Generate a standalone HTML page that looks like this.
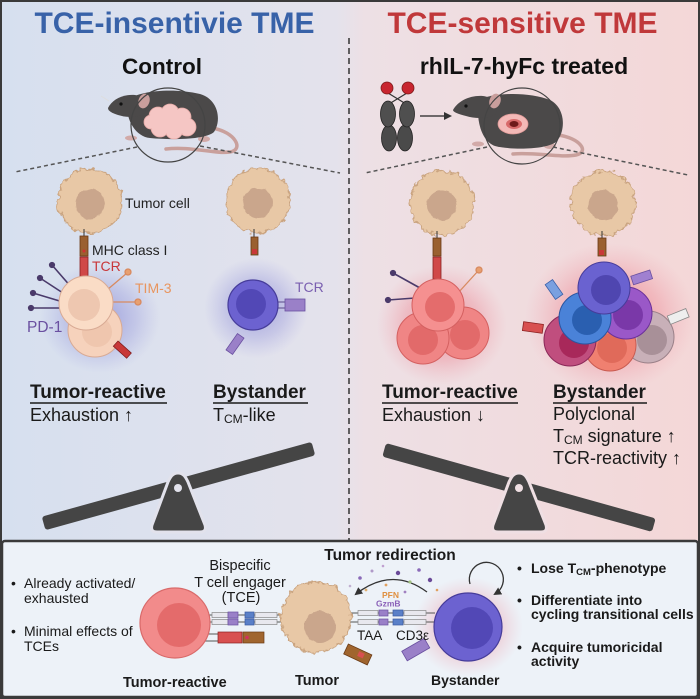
<!DOCTYPE html>
<html><head><meta charset="utf-8"><style>
html,body{margin:0;padding:0;background:#fff;}
body{width:700px;height:699px;overflow:hidden;}
svg{display:block;font-family:"Liberation Sans",Arial,sans-serif;}
</style></head><body>
<svg width="700" height="699" viewBox="0 0 700 699" xmlns="http://www.w3.org/2000/svg">
<defs>
<linearGradient id="bg" x1="0" y1="0" x2="1" y2="0">
<stop offset="0" stop-color="#d6e0ef"/><stop offset="0.48" stop-color="#e4e2ec"/><stop offset="0.52" stop-color="#ede0e5"/><stop offset="1" stop-color="#f4d7d7"/>
</linearGradient>
<radialGradient id="gBlue"><stop offset="0" stop-color="#7070d0" stop-opacity="0.6"/><stop offset="0.6" stop-color="#8a8ad8" stop-opacity="0.3"/><stop offset="1" stop-color="#9a9ae0" stop-opacity="0"/></radialGradient>
<radialGradient id="gRed"><stop offset="0" stop-color="#e85060" stop-opacity="0.6"/><stop offset="0.6" stop-color="#ec7080" stop-opacity="0.3"/><stop offset="1" stop-color="#f090a0" stop-opacity="0"/></radialGradient>
<filter id="rough" x="-25%" y="-25%" width="150%" height="150%"><feTurbulence type="fractalNoise" baseFrequency="0.18" numOctaves="2" seed="4"/><feDisplacementMap in="SourceGraphic" scale="8" xChannelSelector="R" yChannelSelector="G"/></filter>
<filter id="rough2" x="-25%" y="-25%" width="150%" height="150%"><feTurbulence type="fractalNoise" baseFrequency="0.12" numOctaves="2" seed="9"/><feDisplacementMap in="SourceGraphic" scale="4" xChannelSelector="R" yChannelSelector="G"/></filter>
<marker id="ah" markerWidth="8" markerHeight="8" refX="6" refY="4" orient="auto" markerUnits="userSpaceOnUse"><path d="M0,0 L8,4 L0,8 Z" fill="#333"/></marker>
</defs>

<!-- top panel background -->
<rect x="0" y="0" width="700" height="542" fill="url(#bg)"/>
<rect x="1" y="1" width="698" height="697" fill="none" stroke="#3a3a3a" stroke-width="2"/>
<line x1="349" y1="38" x2="349" y2="540" stroke="#333" stroke-width="1.5" stroke-dasharray="6,4"/>

<!-- titles -->
<text x="174.5" y="33" font-size="30" font-weight="bold" fill="#3862a8" text-anchor="middle">TCE-insentivie TME</text>
<text x="522.5" y="33" font-size="30" font-weight="bold" fill="#c0383a" text-anchor="middle">TCE-sensitive TME</text>
<text x="162" y="74" font-size="22.5" font-weight="bold" fill="#111" text-anchor="middle">Control</text>
<text x="524" y="74" font-size="23" font-weight="bold" fill="#111" text-anchor="middle">rhIL-7-hyFc treated</text>

<!-- left mouse -->
<path d="M212,128 C236,132 244,150 230,152 C214,154 190,146 166,149" fill="none" stroke="#c9a09c" stroke-width="3.5" stroke-linecap="round"/>
<ellipse cx="204" cy="139" rx="6" ry="3" fill="#d2aaa8"/>
<ellipse cx="131" cy="138" rx="6" ry="2.5" fill="#d2aaa8"/>
<path d="M128,100 C140,90 175,88 200,94 C218,99 222,120 214,132 C205,140 170,140 150,138 C138,137 130,125 128,115 Z" fill="#4b4949"/>
<path d="M108,108 C112,100 122,94 135,95 C142,96 146,104 146,112 C140,118 128,118 118,115 C112,113 108,111 108,108Z" fill="#4b4949"/>
<line x1="109" y1="101" x2="101" y2="96" stroke="#ddd" stroke-width="0.8"/>
<ellipse cx="144" cy="101" rx="5.5" ry="7.5" fill="#c99e9c" transform="rotate(20 144 101)"/>
<circle cx="121" cy="104" r="1.6" fill="#111"/>
<g fill="#f5c6c4" stroke="#e6a9a6" stroke-width="0.8">
<circle cx="158" cy="116" r="9"/><circle cx="170" cy="113" r="9"/><circle cx="182" cy="117" r="9"/><circle cx="187" cy="127" r="9"/><circle cx="174" cy="130" r="9"/><circle cx="160" cy="128" r="9"/><circle cx="151" cy="122" r="7"/>
</g>
<g fill="#f5c6c4"><circle cx="158" cy="116" r="8"/><circle cx="170" cy="113" r="8"/><circle cx="182" cy="117" r="8"/><circle cx="187" cy="127" r="8"/><circle cx="174" cy="130" r="8"/><circle cx="160" cy="128" r="8"/><circle cx="151" cy="122" r="6"/><circle cx="171" cy="122" r="10"/></g>
<circle cx="168" cy="125" r="37" fill="none" stroke="#444" stroke-width="1.2"/>
<line x1="137" y1="147" x2="15" y2="172" stroke="#555" stroke-width="1.5" stroke-dasharray="4,3"/>
<line x1="200" y1="146" x2="340" y2="173" stroke="#555" stroke-width="1.5" stroke-dasharray="4,3"/>

<!-- right mouse + antibody -->
<path d="M558,135 C580,138 590,152 576,155 C560,158 535,152 513,154" fill="none" stroke="#c9a09c" stroke-width="3.5" stroke-linecap="round"/>
<ellipse cx="550" cy="146" rx="6" ry="3" fill="#d2aaa8"/>
<ellipse cx="478" cy="144" rx="6" ry="2.5" fill="#d2aaa8"/>
<path d="M478,100 C495,92 530,92 550,100 C566,108 566,132 556,142 C545,150 510,150 495,146 C483,142 478,125 478,112 Z" fill="#4b4949"/>
<path d="M453,110 C458,101 470,95 483,96 C492,97 497,104 497,113 C490,119 476,119 466,116 C458,114 453,112 453,110 Z" fill="#4b4949"/>
<ellipse cx="495" cy="101" rx="5.5" ry="7.5" fill="#c99e9c" transform="rotate(20 495 101)"/>
<circle cx="466" cy="106" r="1.6" fill="#111"/>
<ellipse cx="513" cy="124" rx="15" ry="10" fill="#f3b9b7" stroke="#e09a98" stroke-width="0.8"/>
<ellipse cx="514" cy="124" rx="8" ry="5" fill="#d86a6a"/>
<ellipse cx="514" cy="124" rx="4.5" ry="3" fill="#6e1a1a"/>
<circle cx="522" cy="126" r="38" fill="none" stroke="#444" stroke-width="1.2"/>
<line x1="487" y1="147" x2="365" y2="173" stroke="#555" stroke-width="1.5" stroke-dasharray="4,3"/>
<line x1="553" y1="147" x2="688" y2="175" stroke="#555" stroke-width="1.5" stroke-dasharray="4,3"/>
<line x1="388" y1="93" x2="406" y2="104" stroke="#333" stroke-width="1.2"/>
<line x1="407" y1="93" x2="389" y2="104" stroke="#333" stroke-width="1.2"/>
<circle cx="387" cy="88" r="6" fill="#c8252f" stroke="#7a1a1a" stroke-width="0.8"/>
<circle cx="408" cy="88" r="6" fill="#c8252f" stroke="#7a1a1a" stroke-width="0.8"/>
<ellipse cx="389" cy="138" rx="7.5" ry="13" fill="#4a4a4a" stroke="#222" stroke-width="0.8"/>
<ellipse cx="405" cy="138" rx="7.5" ry="13" fill="#4a4a4a" stroke="#222" stroke-width="0.8"/>
<ellipse cx="388" cy="114" rx="7.5" ry="13" fill="#4f4f4f" stroke="#222" stroke-width="0.8"/>
<ellipse cx="407" cy="114" rx="7.5" ry="13" fill="#4f4f4f" stroke="#222" stroke-width="0.8"/>
<line x1="420" y1="116" x2="450" y2="116" stroke="#222" stroke-width="1.3" marker-end="url(#ah)"/>

<!-- tumor cells top -->
<g filter="url(#rough)">
<circle cx="90" cy="201" r="32" fill="#e8c8a6" stroke="#caa480" stroke-width="1.2"/>
<circle cx="258" cy="201" r="32" fill="#e8c8a6" stroke="#caa480" stroke-width="1.2"/>
<circle cx="442" cy="203" r="32" fill="#e8c8a6" stroke="#caa480" stroke-width="1.2"/>
<circle cx="603" cy="203" r="32" fill="#e8c8a6" stroke="#caa480" stroke-width="1.2"/>
</g>
<g filter="url(#rough2)" fill="#caa68c">
<circle cx="90" cy="204" r="15"/><circle cx="258" cy="203" r="15"/><circle cx="442" cy="205" r="15"/><circle cx="603" cy="205" r="15"/>
</g>

<!-- glows -->
<ellipse cx="100" cy="318" rx="60" ry="55" fill="url(#gBlue)"/>
<ellipse cx="256" cy="308" rx="52" ry="50" fill="url(#gBlue)"/>
<ellipse cx="442" cy="325" rx="65" ry="60" fill="url(#gRed)"/>
<ellipse cx="610" cy="318" rx="85" ry="75" fill="url(#gRed)"/>

<!-- left tumor-reactive cluster -->
<line x1="84" y1="229" x2="84" y2="237" stroke="#333" stroke-width="1"/>
<rect x="80" y="236" width="8" height="20" fill="#9a6030" stroke="#6a3a15" stroke-width="0.8"/>
<circle cx="84" cy="251" r="1.5" fill="#d03030"/>
<rect x="80" y="257" width="8" height="20" fill="#d04848" stroke="#8a2020" stroke-width="0.8"/>
<line x1="82" y1="277" x2="82" y2="286" stroke="#555" stroke-width="1"/>
<line x1="86" y1="277" x2="86" y2="286" stroke="#555" stroke-width="1"/>
<g stroke="#4a3a6a" stroke-width="1.6" fill="#4a3a6a">
<line x1="72" y1="288" x2="52" y2="265"/><circle cx="52" cy="265" r="2.3"/>
<line x1="66" y1="295" x2="40" y2="278"/><circle cx="40" cy="278" r="2.3"/>
<line x1="63" y1="302" x2="33" y2="293"/><circle cx="33" cy="293" r="2.3"/>
<line x1="62" y1="308" x2="31" y2="308"/><circle cx="31" cy="308" r="2.3"/>
</g>
<g stroke="#d88a60" stroke-width="1.3" fill="#e8a070">
<line x1="107" y1="290" x2="127" y2="273"/><circle cx="128" cy="272" r="3"/>
<line x1="107" y1="302" x2="136" y2="302"/><circle cx="138" cy="302" r="3"/>
</g>
<circle cx="95" cy="330" r="27" fill="#f6d2bc" stroke="#d8aa94" stroke-width="1"/>
<circle cx="97" cy="332" r="15" fill="#efc6ae"/>
<circle cx="86" cy="303" r="27" fill="#fadcc6" stroke="#d8aa94" stroke-width="1"/>
<circle cx="84" cy="305" r="16" fill="#eec7b0"/>
<rect x="118" y="341" width="18" height="7" fill="#c83838" stroke="#7a1a1a" stroke-width="0.7" transform="rotate(42 118 341)"/>
<text x="125" y="208" font-size="14" fill="#222">Tumor cell</text>
<text x="92" y="255" font-size="14" fill="#222">MHC class I</text>
<text x="92" y="271" font-size="14" fill="#c8363a">TCR</text>
<text x="135" y="293" font-size="14" fill="#e8955f">TIM-3</text>
<text x="27" y="332" font-size="15.5" fill="#6a50a0">PD-1</text>

<!-- left bystander -->
<line x1="254" y1="229" x2="254" y2="238" stroke="#333" stroke-width="1"/>
<rect x="251" y="237" width="7" height="18" fill="#9a6030" stroke="#6a3a15" stroke-width="0.8"/>
<rect x="252" y="249" width="5" height="5" fill="#c83838"/>
<g stroke="#5a4a8a" stroke-width="1"><line x1="276" y1="302" x2="286" y2="302"/><line x1="276" y1="308" x2="286" y2="308"/></g>
<rect x="285" y="299" width="20" height="12" fill="#9a80c8" stroke="#6a50a0" stroke-width="0.8"/>
<circle cx="253" cy="305" r="25" fill="#6c62d0" stroke="#463c9a" stroke-width="1.2"/>
<circle cx="251" cy="304" r="15" fill="#5248b6"/>
<rect x="231" y="334" width="8" height="20" fill="#9a80c8" stroke="#6a50a0" stroke-width="0.8" transform="rotate(35 235 344)"/>
<text x="295" y="292" font-size="14" fill="#7a5fb0">TCR</text>

<!-- right tumor-reactive cluster -->
<line x1="437" y1="231" x2="437" y2="239" stroke="#333" stroke-width="1"/>
<rect x="433" y="238" width="8" height="18" fill="#9a6030" stroke="#6a3a15" stroke-width="0.8"/>
<rect x="433" y="257" width="8" height="22" fill="#d04848" stroke="#8a2020" stroke-width="0.8"/>
<g stroke="#4a3a6a" stroke-width="1.6" fill="#4a3a6a">
<line x1="420" y1="288" x2="393" y2="273"/><circle cx="393" cy="273" r="2.3"/>
<line x1="415" y1="298" x2="388" y2="300"/><circle cx="388" cy="300" r="2.3"/>
</g>
<g stroke="#d88a60" stroke-width="1.3" fill="#e8a070"><line x1="458" y1="293" x2="478" y2="271"/><circle cx="479" cy="270" r="3"/></g>
<circle cx="463" cy="333" r="26" fill="#f08585" stroke="#d46060" stroke-width="1"/>
<circle cx="465" cy="335" r="15" fill="#e26a6a"/>
<circle cx="423" cy="338" r="26" fill="#f08585" stroke="#d46060" stroke-width="1"/>
<circle cx="423" cy="340" r="15" fill="#e26a6a"/>
<circle cx="438" cy="305" r="26" fill="#f59090" stroke="#d46060" stroke-width="1"/>
<circle cx="440" cy="307" r="15" fill="#e46c6c"/>

<!-- right bystander cluster -->
<line x1="602" y1="231" x2="602" y2="239" stroke="#333" stroke-width="1"/>
<rect x="598" y="238" width="8" height="18" fill="#9a6030" stroke="#6a3a15" stroke-width="0.8"/>
<rect x="599" y="250" width="5" height="5" fill="#c83838"/>
<circle cx="648" cy="337" r="26" fill="#c8b0b8" stroke="#9a8088" stroke-width="1"/><circle cx="652" cy="340" r="15" fill="#a89098"/>
<circle cx="610" cy="345" r="26" fill="#f08070" stroke="#c85a50" stroke-width="1"/><circle cx="612" cy="348" r="15" fill="#e06a5a"/>
<circle cx="570" cy="340" r="26" fill="#c04e7e" stroke="#8a2858" stroke-width="1"/><circle cx="574" cy="343" r="15" fill="#a8285a"/>
<circle cx="626" cy="313" r="26" fill="#9a58c8" stroke="#6a3098" stroke-width="1"/><circle cx="628" cy="315" r="15" fill="#7a38a8"/>
<circle cx="585" cy="318" r="26" fill="#4a82d8" stroke="#2a55a0" stroke-width="1"/><circle cx="587" cy="320" r="15" fill="#2a5fb0"/>
<circle cx="604" cy="288" r="26" fill="#6a62d0" stroke="#463c9a" stroke-width="1"/><circle cx="606" cy="290" r="15" fill="#4f46b0"/>
<g stroke-width="0.8">
<rect x="632" y="276" width="20" height="9" fill="#a080d0" stroke="#6a50a0" transform="rotate(-18 632 280)"/>
<rect x="550" y="280" width="9" height="18" fill="#7aa0e0" stroke="#3a60a8" transform="rotate(-35 555 290)"/>
<rect x="523" y="323" width="20" height="9" fill="#d85050" stroke="#8a2020" transform="rotate(8 533 327)"/>
<rect x="668" y="312" width="20" height="9" fill="#eee" stroke="#888" transform="rotate(-22 678 316)"/>
</g>

<!-- middle labels -->
<g fill="#1a1a1a">
<text x="30" y="398" font-size="19" font-weight="bold">Tumor-reactive</text>
<text x="30" y="421" font-size="18">Exhaustion ↑</text>
<text x="213" y="398" font-size="19" font-weight="bold">Bystander</text>
<text x="213" y="421" font-size="18">T<tspan font-size="12" dy="2">CM</tspan><tspan dy="-2">-like</tspan></text>
<text x="382" y="398" font-size="19" font-weight="bold">Tumor-reactive</text>
<text x="382" y="421" font-size="18">Exhaustion ↓</text>
<text x="553" y="398" font-size="19" font-weight="bold">Bystander</text>
<text x="553" y="420" font-size="18">Polyclonal</text>
<text x="553" y="442" font-size="18">T<tspan font-size="12" dy="2">CM</tspan><tspan dy="-2"> signature ↑</tspan></text>
<text x="553" y="464" font-size="18">TCR-reactivity ↑</text>
</g>
<g stroke="#1a1a1a" stroke-width="1.6">
<line x1="30" y1="403" x2="167" y2="403"/><line x1="213" y1="403" x2="308" y2="403"/>
<line x1="382" y1="403" x2="518" y2="403"/><line x1="553" y1="403" x2="647" y2="403"/>
</g>

<!-- seesaws -->
<rect x="-140" y="-7" width="280" height="14" rx="3" fill="#454545" transform="translate(178.5 486) rotate(-15.5)"/>
<path d="M178,473 C172,473 170,478 168,482 L152,525 Q150,532 157,532 L200,532 Q207,532 205,525 L188,482 C186,478 184,473 178,473 Z" fill="#454545" stroke="#e2e2ec" stroke-width="3"/>
<circle cx="178" cy="488" r="4" fill="#e2e2ec"/>
<rect x="-140" y="-7" width="280" height="14" rx="3" fill="#454545" transform="translate(519 487.5) rotate(15.6)"/>
<path d="M519,473 C513,473 511,478 509,482 L493,525 Q491,532 498,532 L541,532 Q548,532 546,525 L529,482 C527,478 525,473 519,473 Z" fill="#454545" stroke="#efdfe3" stroke-width="3"/>
<circle cx="519" cy="488" r="4" fill="#efdfe3"/>

<!-- bottom panel -->
<rect x="2" y="541" width="696" height="156" rx="3" fill="#edf2f8" stroke="#3a3a3a" stroke-width="2.5"/>
<g font-size="14" fill="#1a1a1a">
<text x="11" y="588">•</text><text x="24" y="588">Already activated/</text>
<text x="24" y="603">exhausted</text>
<text x="11" y="636">•</text><text x="24" y="636">Minimal effects of</text>
<text x="24" y="651">TCEs</text>
</g>
<g font-size="14.5" fill="#1a1a1a" text-anchor="middle">
<text x="240" y="570">Bispecific</text>
<text x="240" y="587">T cell engager</text>
<text x="241" y="602">(TCE)</text>
</g>
<text x="390" y="560" font-size="15.5" font-weight="bold" fill="#1a1a1a" text-anchor="middle">Tumor redirection</text>

<!-- bystander glow -->
<ellipse cx="468" cy="627" rx="55" ry="50" fill="url(#gRed)" opacity="0.8"/>

<!-- left TCE bars -->
<g stroke="#555" stroke-width="1"><line x1="205" y1="615" x2="290" y2="615"/><line x1="205" y1="622" x2="290" y2="622"/>
<line x1="205" y1="634" x2="220" y2="634"/><line x1="205" y1="641" x2="220" y2="641"/></g>
<g stroke-width="0.7">
<rect x="212" y="612.5" width="16" height="5" fill="#e8e8ee" stroke="#888"/><rect x="212" y="619.5" width="16" height="5" fill="#e8e8ee" stroke="#888"/>
<rect x="228" y="612" width="10" height="6" fill="#9a80c8" stroke="#6a50a0"/><rect x="228" y="619" width="10" height="6" fill="#9a80c8" stroke="#6a50a0"/>
<rect x="245" y="612" width="9" height="6" fill="#5a80c8" stroke="#3a5aa0"/><rect x="245" y="619" width="9" height="6" fill="#5a80c8" stroke="#3a5aa0"/>
<rect x="255" y="612.5" width="22" height="5" fill="#e8e8ee" stroke="#888"/><rect x="255" y="619.5" width="22" height="5" fill="#e8e8ee" stroke="#888"/>
<rect x="218" y="632" width="24" height="11" fill="#d85050" stroke="#8a2020"/>
<rect x="243" y="632" width="21" height="11" fill="#a0652e" stroke="#6a3a15"/>
<circle cx="247" cy="637.5" r="1.8" fill="#d03060"/>
</g>
<!-- right TCE bars -->
<g stroke="#555" stroke-width="1"><line x1="345" y1="613" x2="435" y2="613"/><line x1="345" y1="622" x2="435" y2="622"/></g>
<g stroke-width="0.7">
<rect x="358" y="610.5" width="20" height="5" fill="#e8e8ee" stroke="#888"/><rect x="358" y="619.5" width="20" height="5" fill="#e8e8ee" stroke="#888"/>
<rect x="379" y="610" width="9" height="6" fill="#9a80c8" stroke="#6a50a0"/><rect x="379" y="619" width="9" height="6" fill="#9a80c8" stroke="#6a50a0"/>
<rect x="393" y="610" width="10" height="6" fill="#5a80c8" stroke="#3a5aa0"/><rect x="393" y="619" width="10" height="6" fill="#5a80c8" stroke="#3a5aa0"/>
<rect x="404" y="610.5" width="22" height="5" fill="#e8e8ee" stroke="#888"/><rect x="404" y="619.5" width="22" height="5" fill="#e8e8ee" stroke="#888"/>
</g>

<!-- bottom cells -->
<circle cx="175" cy="623" r="35" fill="#f28b8b" stroke="#d96a6a" stroke-width="1.2"/>
<circle cx="179" cy="625" r="22" fill="#e46b6b"/>
<g filter="url(#rough)"><circle cx="316" cy="617" r="35" fill="#e8c8a6" stroke="#caa480" stroke-width="1.2"/></g>
<g filter="url(#rough2)"><circle cx="320" cy="627" r="16" fill="#caa68c"/></g>
<rect x="345" y="649" width="26" height="11" fill="#a0652e" stroke="#6a3a15" stroke-width="0.8" transform="rotate(25 358 654)"/>
<rect x="358" y="651" width="6" height="5" fill="#d85050" transform="rotate(25 358 654)"/>
<circle cx="468" cy="627" r="34" fill="#6c62d0" stroke="#463c9a" stroke-width="1.2"/>
<circle cx="472" cy="628" r="21" fill="#5248b6"/>
<rect x="403" y="644" width="26" height="11" fill="#9a80c8" stroke="#6a50a0" stroke-width="0.8" transform="rotate(-30 416 650)"/>

<!-- redirection arrow & granules -->
<path d="M427,592 Q392,566 356,594" fill="none" stroke="#333" stroke-width="1.3" marker-end="url(#ah)"/>
<g>
<circle cx="360" cy="578" r="1.8" fill="#8a6ab8"/><circle cx="372" cy="571" r="1.5" fill="#b09ac8"/>
<circle cx="386" cy="585" r="1.4" fill="#e0a060"/><circle cx="398" cy="573" r="2.2" fill="#6a4a98"/>
<circle cx="410" cy="582" r="1.6" fill="#a0c080"/><circle cx="419" cy="570" r="1.8" fill="#8a6ab8"/>
<circle cx="366" cy="590" r="1.4" fill="#e0b070"/><circle cx="405" cy="592" r="1.4" fill="#a080c0"/>
<circle cx="430" cy="580" r="2.2" fill="#6a4a98"/><circle cx="383" cy="566" r="1.3" fill="#c0a0d0"/>
<circle cx="437" cy="590" r="1.3" fill="#e0a060"/><circle cx="350" cy="586" r="1.3" fill="#c0b0d0"/>
</g>
<text x="382" y="598" font-size="8.5" font-weight="bold" fill="#e09040">PFN</text>
<text x="376" y="606.5" font-size="8.5" font-weight="bold" fill="#8a60b8">GzmB</text>
<text x="357" y="640" font-size="13.5" fill="#1a1a1a">TAA</text>
<text x="396" y="640" font-size="13.5" fill="#1a1a1a">CD3ε</text>
<path d="M470,584 A17,17 0 1 1 495,594" fill="none" stroke="#333" stroke-width="1.3" marker-end="url(#ah)"/>

<g font-size="14.5" font-weight="bold" fill="#1a1a1a">
<text x="123" y="687">Tumor-reactive</text>
<text x="295" y="685">Tumor</text>
<text x="431" y="685" font-size="14">Bystander</text>
</g>
<g font-size="14" font-weight="bold" fill="#1a1a1a">
<text x="517" y="573">•</text><text x="531" y="573">Lose T<tspan font-size="9.5" dy="2">CM</tspan><tspan dy="-2">-phenotype</tspan></text>
<text x="517" y="605">•</text><text x="531" y="605">Differentiate into</text>
<text x="531" y="619">cycling transitional cells</text>
<text x="517" y="652">•</text><text x="531" y="652">Acquire tumoricidal</text>
<text x="531" y="666">activity</text>
</g>
</svg>
</body></html>
